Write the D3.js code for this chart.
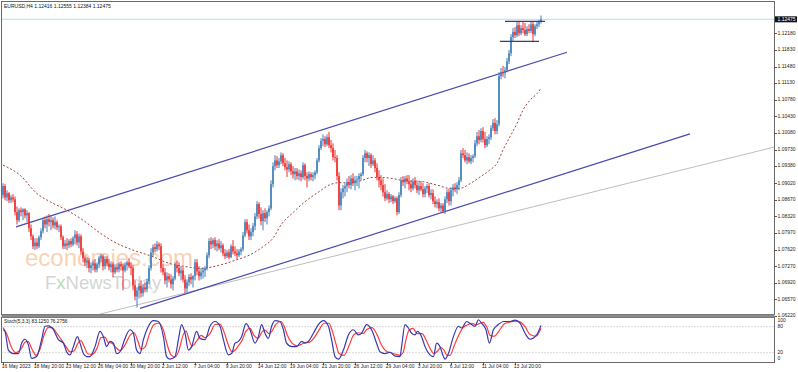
<!DOCTYPE html>
<html>
<head>
<meta charset="utf-8">
<script src="https://cdn.jsdelivr.net/npm/d3@7"></script>
<style>
  html, body { margin: 0; padding: 0; background: #fff; }
  svg { display: block; font-family: "Liberation Sans", Arial, sans-serif; }
</style>
</head>
<body>
<svg id="chart" width="798" height="372"></svg>
<script>
// EURUSD H4, one entry per bar (bar 0 = 16 May 2023 04:00)
const open = [
  1.0877,1.0896,1.0872,1.0881,1.0866,1.0872,1.0868,1.0841,1.0824,1.0845,
  1.0841,1.0847,1.0834,1.0839,1.0807,1.0790,1.0769,1.0777,1.0769,1.0788,
  1.0801,1.0824,1.0815,1.0826,1.0820,1.0824,1.0813,1.0820,1.0809,1.0811,
  1.0788,1.0769,1.0775,1.0771,1.0780,1.0773,1.0786,1.0794,1.0777,1.0790,
  1.0758,1.0744,1.0735,1.0739,1.0723,1.0729,1.0733,1.0720,1.0731,1.0744,
  1.0748,1.0727,1.0742,1.0733,1.0725,1.0731,1.0714,1.0725,1.0720,1.0731,
  1.0727,1.0718,1.0729,1.0735,1.0727,1.0723,1.0687,1.0663,1.0676,1.0685,
  1.0670,1.0682,1.0678,1.0695,1.0723,1.0756,1.0767,1.0763,1.0773,1.0769,
  1.0723,1.0714,1.0697,1.0706,1.0699,1.0689,1.0701,1.0729,1.0723,1.0712,
  1.0718,1.0699,1.0680,1.0693,1.0704,1.0699,1.0706,1.0735,1.0716,1.0706,
  1.0714,1.0718,1.0723,1.0750,1.0780,1.0773,1.0782,1.0769,1.0775,1.0765,
  1.0771,1.0754,1.0748,1.0756,1.0746,1.0769,1.0758,1.0754,1.0750,1.0758,
  1.0763,1.0792,1.0820,1.0803,1.0790,1.0799,1.0811,1.0832,1.0858,1.0837,
  1.0822,1.0839,1.0828,1.0841,1.0849,1.0900,1.0938,1.0950,1.0940,1.0948,
  1.0961,1.0944,1.0936,1.0931,1.0942,1.0927,1.0921,1.0927,1.0917,1.0923,
  1.0915,1.0940,1.0917,1.0912,1.0921,1.0915,1.0919,1.0925,1.0950,1.0976,
  1.0991,1.0995,1.0984,1.0999,1.0982,1.0976,1.0957,1.0955,1.0917,1.0855,
  1.0883,1.0891,1.0896,1.0904,1.0898,1.0912,1.0902,1.0908,1.0910,1.0917,
  1.0921,1.0955,1.0965,1.0955,1.0961,1.0942,1.0950,1.0934,1.0915,1.0908,
  1.0898,1.0883,1.0870,1.0879,1.0868,1.0874,1.0864,1.0870,1.0841,1.0877,
  1.0908,1.0904,1.0912,1.0906,1.0900,1.0891,1.0906,1.0898,1.0887,1.0896,
  1.0889,1.0879,1.0891,1.0896,1.0877,1.0881,1.0864,1.0858,1.0862,1.0849,
  1.0855,1.0843,1.0868,1.0883,1.0864,1.0887,1.0893,1.0889,1.0898,1.0908,
  1.0965,1.0961,1.0950,1.0957,1.0948,1.0955,1.0959,1.0986,1.1001,1.0993,
  1.1012,1.0995,1.0982,1.0995,1.0999,1.1018,1.1029,1.1012,1.1026,1.1128,
  1.1136,1.1134,1.1140,1.1159,1.1176,1.1210,1.1221,1.1214,1.1235,1.1218,
  1.1229,1.1225,1.1216,1.1227,1.1223,1.1237,1.1216,1.1233,1.1237,1.12416
];
const high = [
  1.0902,1.0900,1.0887,1.0883,1.0877,1.0879,1.0874,1.0853,1.0849,1.0851,
  1.0849,1.0849,1.0845,1.0841,1.0815,1.0794,1.0786,1.0786,1.0792,1.0807,
  1.0830,1.0832,1.0834,1.0837,1.0834,1.0830,1.0832,1.0824,1.0815,1.0815,
  1.0792,1.0782,1.0786,1.0784,1.0786,1.0790,1.0803,1.0801,1.0796,1.0794,
  1.0765,1.0750,1.0746,1.0744,1.0735,1.0739,1.0742,1.0735,1.0748,1.0754,
  1.0752,1.0748,1.0748,1.0742,1.0737,1.0735,1.0731,1.0733,1.0735,1.0737,
  1.0733,1.0735,1.0739,1.0744,1.0735,1.0729,1.0697,1.0682,1.0691,1.0697,
  1.0689,1.0693,1.0701,1.0729,1.0765,1.0773,1.0775,1.0780,1.0777,1.0775,
  1.0731,1.0723,1.0714,1.0712,1.0710,1.0706,1.0735,1.0739,1.0735,1.0727,
  1.0725,1.0708,1.0699,1.0710,1.0712,1.0708,1.0742,1.0742,1.0727,1.0723,
  1.0725,1.0727,1.0756,1.0786,1.0788,1.0786,1.0788,1.0782,1.0784,1.0780,
  1.0775,1.0763,1.0761,1.0763,1.0773,1.0782,1.0769,1.0763,1.0763,1.0767,
  1.0799,1.0826,1.0826,1.0815,1.0807,1.0818,1.0839,1.0864,1.0862,1.0851,
  1.0845,1.0849,1.0845,1.0855,1.0908,1.0946,1.0961,1.0959,1.0955,1.0967,
  1.0965,1.0955,1.0950,1.0948,1.0946,1.0938,1.0934,1.0934,1.0931,1.0929,
  1.0946,1.0944,1.0925,1.0927,1.0925,1.0925,1.0929,1.0955,1.0982,1.0997,
  1.1005,1.1001,1.1005,1.1010,1.0993,1.0986,1.0972,1.0961,1.0925,1.0891,
  1.0898,1.0902,1.0912,1.0917,1.0919,1.0923,1.0917,1.0917,1.0923,1.0925,
  1.0961,1.0972,1.0969,1.0967,1.0965,1.0961,1.0955,1.0944,1.0929,1.0919,
  1.0912,1.0900,1.0887,1.0883,1.0879,1.0877,1.0874,1.0874,1.0883,1.0915,
  1.0917,1.0917,1.0919,1.0919,1.0908,1.0912,1.0915,1.0908,1.0904,1.0906,
  1.0902,1.0896,1.0900,1.0902,1.0889,1.0889,1.0874,1.0868,1.0870,1.0860,
  1.0860,1.0874,1.0889,1.0891,1.0893,1.0900,1.0902,1.0904,1.0915,1.0972,
  1.0976,1.0972,1.0967,1.0965,1.0961,1.0963,1.0993,1.1010,1.1014,1.1018,
  1.1020,1.1010,1.1001,1.1005,1.1024,1.1037,1.1039,1.1035,1.1136,1.1145,
  1.1149,1.1147,1.1166,1.1183,1.1216,1.1229,1.1231,1.1242,1.1242,1.1235,
  1.1242,1.1240,1.1233,1.1237,1.1242,1.1242,1.1237,1.1244,1.1246,1.12555
];
const low = [
  1.0870,1.0866,1.0864,1.0860,1.0860,1.0862,1.0834,1.0815,1.0820,1.0832,
  1.0824,1.0828,1.0820,1.0799,1.0782,1.0763,1.0761,1.0763,1.0765,1.0782,
  1.0796,1.0807,1.0799,1.0811,1.0803,1.0807,1.0805,1.0803,1.0799,1.0782,
  1.0763,1.0763,1.0761,1.0765,1.0767,1.0769,1.0773,1.0771,1.0765,1.0752,
  1.0735,1.0727,1.0723,1.0714,1.0712,1.0718,1.0714,1.0714,1.0723,1.0735,
  1.0718,1.0720,1.0727,1.0718,1.0714,1.0704,1.0710,1.0714,1.0714,1.0718,
  1.0676,1.0714,1.0718,1.0723,1.0708,1.0676,1.0655,1.0640,1.0659,1.0661,
  1.0663,1.0672,1.0672,1.0689,1.0718,1.0746,1.0756,1.0758,1.0761,1.0714,
  1.0708,1.0689,1.0682,1.0693,1.0680,1.0676,1.0697,1.0714,1.0706,1.0697,
  1.0693,1.0670,1.0672,1.0685,1.0689,1.0682,1.0697,1.0708,1.0697,1.0699,
  1.0701,1.0704,1.0718,1.0744,1.0763,1.0765,1.0761,1.0758,1.0761,1.0756,
  1.0748,1.0742,1.0744,1.0742,1.0744,1.0752,1.0748,1.0742,1.0746,1.0750,
  1.0758,1.0788,1.0796,1.0782,1.0782,1.0790,1.0803,1.0826,1.0828,1.0813,
  1.0803,1.0820,1.0815,1.0832,1.0845,1.0893,1.0929,1.0934,1.0934,1.0942,
  1.0938,1.0929,1.0915,1.0925,1.0919,1.0912,1.0908,1.0910,1.0908,1.0906,
  1.0910,1.0908,1.0893,1.0906,1.0908,1.0906,1.0910,1.0921,1.0946,1.0972,
  1.0980,1.0978,1.0980,1.0976,1.0967,1.0950,1.0946,1.0908,1.0845,1.0845,
  1.0870,1.0874,1.0883,1.0891,1.0889,1.0896,1.0887,1.0896,1.0891,1.0908,
  1.0917,1.0946,1.0946,1.0938,1.0934,1.0938,1.0925,1.0908,1.0893,1.0887,
  1.0874,1.0864,1.0866,1.0860,1.0862,1.0858,1.0860,1.0834,1.0837,1.0872,
  1.0896,1.0891,1.0900,1.0887,1.0883,1.0887,1.0891,1.0881,1.0877,1.0885,
  1.0872,1.0872,1.0881,1.0872,1.0868,1.0858,1.0851,1.0849,1.0843,1.0841,
  1.0839,1.0837,1.0860,1.0855,1.0855,1.0874,1.0883,1.0879,1.0887,1.0904,
  1.0955,1.0946,1.0942,1.0944,1.0942,1.0946,1.0955,1.0980,1.0984,1.0988,
  1.0988,1.0976,1.0978,1.0984,1.0993,1.1012,1.1005,1.1005,1.1022,1.1121,
  1.1126,1.1123,1.1136,1.1153,1.1170,1.1202,1.1208,1.1210,1.1212,1.1214,
  1.1218,1.1212,1.1212,1.1218,1.1218,1.1199,1.1212,1.1227,1.1231,1.12384
];
const close = [
  1.0896,1.0872,1.0881,1.0866,1.0872,1.0868,1.0841,1.0824,1.0845,1.0841,
  1.0847,1.0834,1.0839,1.0807,1.0790,1.0769,1.0777,1.0769,1.0788,1.0801,
  1.0824,1.0815,1.0826,1.0820,1.0824,1.0813,1.0820,1.0809,1.0811,1.0788,
  1.0769,1.0775,1.0771,1.0780,1.0773,1.0786,1.0794,1.0777,1.0790,1.0758,
  1.0744,1.0735,1.0739,1.0723,1.0729,1.0733,1.0720,1.0731,1.0744,1.0748,
  1.0727,1.0742,1.0733,1.0725,1.0731,1.0714,1.0725,1.0720,1.0731,1.0727,
  1.0718,1.0729,1.0735,1.0727,1.0723,1.0687,1.0663,1.0676,1.0685,1.0670,
  1.0682,1.0678,1.0695,1.0723,1.0756,1.0767,1.0763,1.0773,1.0769,1.0723,
  1.0714,1.0697,1.0706,1.0699,1.0689,1.0701,1.0729,1.0723,1.0712,1.0718,
  1.0699,1.0680,1.0693,1.0704,1.0699,1.0706,1.0735,1.0716,1.0706,1.0714,
  1.0718,1.0723,1.0750,1.0780,1.0773,1.0782,1.0769,1.0775,1.0765,1.0771,
  1.0754,1.0748,1.0756,1.0746,1.0769,1.0758,1.0754,1.0750,1.0758,1.0763,
  1.0792,1.0820,1.0803,1.0790,1.0799,1.0811,1.0832,1.0858,1.0837,1.0822,
  1.0839,1.0828,1.0841,1.0849,1.0900,1.0938,1.0950,1.0940,1.0948,1.0961,
  1.0944,1.0936,1.0931,1.0942,1.0927,1.0921,1.0927,1.0917,1.0923,1.0915,
  1.0940,1.0917,1.0912,1.0921,1.0915,1.0919,1.0925,1.0950,1.0976,1.0991,
  1.0995,1.0984,1.0999,1.0982,1.0976,1.0957,1.0955,1.0917,1.0855,1.0883,
  1.0891,1.0896,1.0904,1.0898,1.0912,1.0902,1.0908,1.0910,1.0917,1.0921,
  1.0955,1.0965,1.0955,1.0961,1.0942,1.0950,1.0934,1.0915,1.0908,1.0898,
  1.0883,1.0870,1.0879,1.0868,1.0874,1.0864,1.0870,1.0841,1.0877,1.0908,
  1.0904,1.0912,1.0906,1.0900,1.0891,1.0906,1.0898,1.0887,1.0896,1.0889,
  1.0879,1.0891,1.0896,1.0877,1.0881,1.0864,1.0858,1.0862,1.0849,1.0855,
  1.0843,1.0868,1.0883,1.0864,1.0887,1.0893,1.0889,1.0898,1.0908,1.0965,
  1.0961,1.0950,1.0957,1.0948,1.0955,1.0959,1.0986,1.1001,1.0993,1.1012,
  1.0995,1.0982,1.0995,1.0999,1.1018,1.1029,1.1012,1.1026,1.1128,1.1136,
  1.1134,1.1140,1.1159,1.1176,1.1210,1.1221,1.1214,1.1235,1.1218,1.1229,
  1.1225,1.1216,1.1227,1.1223,1.1237,1.1216,1.1233,1.1237,1.12416,1.12475
];

// moving average (dashed), sampled at bar indices
const maBars   = [0, 8.5, 17, 23.5, 32, 40, 48.5, 57, 65, 75, 83, 91.5, 100, 105, 111.5, 116.5, 123, 130, 135, 139.5, 144.5, 151, 158, 163, 168, 174.5, 179.5, 184.5, 189.5, 194.5, 199.5, 210, 217, 223.5, 228.5, 233.5, 238.5, 243.5, 247, 250, 253.5, 257, 260, 263.5, 267, 269];
const maValues = [1.0940, 1.0919, 1.0880, 1.0863, 1.0845, 1.0824, 1.0797, 1.0775, 1.0761, 1.0747, 1.0733, 1.0726, 1.0722, 1.0726, 1.0733, 1.0740, 1.0750, 1.0768, 1.0786, 1.0817, 1.0838, 1.0863, 1.0884, 1.0898, 1.0903, 1.0903, 1.0908, 1.0914, 1.0914, 1.0912, 1.0908, 1.0905, 1.0898, 1.0891, 1.0891, 1.0901, 1.0915, 1.0930, 1.0944, 1.0972, 1.1000, 1.1028, 1.1056, 1.1077, 1.1091, 1.1102];

// Stochastic(5,3,3): main (%K) and signal (%D)
const stochKBars = [0, 1, 2.7, 5.2, 7.7, 9.3, 11, 12.7, 14.3, 16.8, 19.3, 21, 22.7, 25.2, 27.7, 30.2, 31.8, 33.5, 35.2, 37.2, 38.5, 40.2, 41.8, 43.5, 46, 48.5, 50.2, 51.8, 53.5, 55.2, 56.8, 58.5, 61, 63.5, 65.2, 66.8, 68.5, 70.2, 72.7, 75.2, 77.7, 80.2, 81.8, 83.5, 86, 87.7, 89.3, 91, 92.7, 94.3, 96.8, 98.5, 101, 103.5, 106, 108.5, 110.2, 112.7, 114.3, 116, 117.7, 119.3, 121.5, 123.5, 126, 127.7, 129.3, 131, 132.7, 134.3, 136, 138.5, 140.2, 141.8, 144.3, 146.8, 149.3, 151, 152.7, 155.2, 157.7, 160.2, 162.7, 164.3, 166, 167.7, 170.2, 172.7, 175.2, 177.7, 179.3, 181.8, 184.3, 186.8, 188.5, 191, 193.5, 196, 198.5, 199.3, 201, 202.7, 204.3, 206, 207.2, 209.3, 211, 213.5, 215.2, 216.8, 218.5, 220.2, 221, 222.7, 225.2, 227.7, 229.3, 231.8, 234.3, 236, 237.7, 239.3, 241.5, 243.2, 245.2, 247.7, 250.2, 253.5, 256, 258.5, 261, 263.5, 266.8, 269];
const stochK = [73, 69, 26, 18, 18, 42, 51, 38, 7, 11, 50, 81, 82, 73, 50, 42, 22, 15, 34, 57, 42, 18, 11, 11, 34, 69, 57, 34, 46, 42, 18, 22, 53, 73, 65, 26, 18, 50, 81, 94, 92, 57, 11, 5, 11, 50, 85, 65, 26, 34, 69, 53, 50, 81, 92, 81, 50, 15, 18, 42, 46, 57, 87, 73, 42, 57, 85, 65, 53, 81, 94, 92, 73, 42, 34, 34, 46, 42, 46, 65, 85, 94, 81, 50, 11, 5, 26, 61, 73, 61, 65, 85, 73, 42, 22, 18, 21, 12, 11, 34, 85, 77, 65, 61, 69, 57, 34, 15, 11, 42, 34, 11, 5, 18, 57, 81, 77, 92, 85, 81, 96, 88, 73, 42, 73, 85, 92, 92, 95, 88, 65, 51, 61, 83.1];
const stochDBars = [0, 2, 4, 6.5, 9, 11, 12.5, 14.5, 16.5, 18.5, 20.5, 22.5, 24.5, 27, 29.5, 31.5, 33.5, 35.5, 37.5, 39, 40.5, 42.5, 44.5, 47, 49, 51, 52.5, 54.5, 56.5, 58.5, 61, 63.5, 65.5, 67.5, 69, 71, 73, 75.5, 78, 80, 82, 84, 86, 88, 90, 91.5, 93, 94.5, 97, 99, 101, 103.5, 106, 108.5, 110.5, 112.5, 114.5, 116.5, 118, 119.5, 121.5, 123.5, 125.5, 127.5, 129.5, 131, 133, 134.5, 136.5, 139, 140.5, 142, 144.5, 147, 149.5, 151.5, 153, 155.5, 158, 160.5, 163, 164.5, 166.5, 168, 170.5, 173, 175.5, 178, 180, 182, 184.5, 187, 189, 191.5, 194, 196.5, 198.5, 200, 201.5, 203, 205, 207, 209.5, 211.5, 213.5, 215.5, 217.5, 219, 220.5, 222, 223.5, 225.5, 228, 230, 232, 234.5, 236.5, 238, 240, 242, 243.5, 245.5, 248, 250.5, 253.5, 256, 258.5, 261, 263.5, 266.5, 269];
const stochD = [78, 62, 35, 20, 28, 44, 46, 28, 14, 28, 60, 78, 78, 64, 48, 34, 22, 24, 42, 48, 35, 17, 16, 30, 55, 56, 44, 42, 32, 25, 38, 60, 66, 46, 28, 33, 60, 85, 88, 75, 40, 15, 10, 26, 60, 70, 50, 35, 48, 60, 55, 64, 85, 86, 68, 40, 22, 28, 38, 48, 70, 76, 60, 53, 68, 72, 64, 70, 86, 92, 82, 62, 42, 36, 40, 44, 44, 54, 72, 88, 88, 72, 40, 18, 14, 36, 62, 66, 64, 74, 78, 62, 40, 24, 20, 16, 14, 20, 50, 72, 76, 64, 64, 50, 30, 18, 25, 32, 26, 14, 14, 35, 62, 78, 84, 88, 84, 87, 90, 78, 60, 58, 70, 86, 91, 93, 91, 80, 62, 58, 76.3];
const stochLevels = [80, 20];
const stochTicks = [100, 80, 20, 0];

// drawn objects: [bar, price] anchors
const upperChannel = [[6.5, 1.0810], [282, 1.1178]];
const lowerChannel = [[68.5, 1.0638], [343.5, 1.1006]];
const grayTrend = [[48.5, 1.0626], [385.5, 1.0978]];
const rangeTop = [[251, 1.1243], [271, 1.1243]];
const rangeBottom = [[248.5, 1.1201], [268, 1.1201]];

const priceTicks = [1.12180, 1.11830, 1.11480, 1.11130, 1.10780, 1.10430, 1.10080, 1.09730, 1.09380, 1.09020, 1.08670, 1.08320, 1.07970, 1.07620, 1.07270, 1.06920, 1.06570, 1.06220];
const lastPrice = 1.12475;
const dateBars = [0, 16, 32, 48, 64, 80, 96, 112, 128, 144, 160, 176, 192, 208, 224, 240, 256];
const dateLabels = ['16 May 2023', '18 May 20:00', '23 May 12:00', '26 May 04:00', '30 May 20:00', '2 Jun 12:00', '7 Jun 04:00', '9 Jun 20:00', '14 Jun 12:00', '19 Jun 04:00', '21 Jun 20:00', '26 Jun 12:00', '29 Jun 04:00', '3 Jul 20:00', '6 Jul 12:00', '11 Jul 04:00', '13 Jul 20:00'];
const headerText = 'EURUSD,H4  1.12416 1.12555 1.12384 1.12475';
const stochHeader = 'Stoch(5,3,3) 83.1250 76.2756';

const svg = d3.select('#chart');
const left = 1.5, right = 774.5;
const mainTop = 1.5, mainBottom = 314.5;
const subTop = 317.5, subBottom = 362.5;

const x = d3.scaleLinear().domain([0, 385.75]).range([3, right]);
const y = d3.scaleLinear().domain([1.06220, 1.12180]).range([316, 33.3]);
const ys = d3.scaleLinear().domain([20, 80]).range([352.7, 326.7]);

const defs = svg.append('defs');
defs.append('clipPath').attr('id', 'clipMain')
  .append('rect').attr('x', left).attr('y', mainTop).attr('width', right - left).attr('height', mainBottom - mainTop);
defs.append('clipPath').attr('id', 'clipSub')
  .append('rect').attr('x', left).attr('y', subTop).attr('width', right - left).attr('height', subBottom - subTop);

// watermark
const wm = svg.append('g').attr('pointer-events', 'none');
wm.append('text')
  .attr('x', 25).attr('y', 266)
  .attr('font-size', 24).attr('fill', '#f8c29a').attr('fill-opacity', 0.75)
  .text('economies.com');
const fx = wm.append('text')
  .attr('x', 45).attr('y', 289)
  .attr('font-size', 18.5).attr('fill', '#c9c9c9').attr('fill-opacity', 0.8);
fx.append('tspan').text('F');
fx.append('tspan').attr('fill', '#a9cfa0').text('x');
fx.append('tspan').text('NewsToday');

const main = svg.append('g').attr('clip-path', 'url(#clipMain)');

// current bid line
main.append('line')
  .attr('x1', left).attr('x2', right)
  .attr('y1', y(lastPrice)).attr('y2', y(lastPrice))
  .attr('stroke', '#b5e1ee').attr('stroke-width', 1);

const line = d3.line().x(d => x(d[0])).y(d => y(d[1]));

main.append('path').datum(grayTrend).attr('d', line)
  .attr('fill', 'none').attr('stroke', '#bdbdbd').attr('stroke-width', 1);
main.selectAll('path.channel')
  .data([upperChannel, lowerChannel])
  .join('path').attr('class', 'channel').attr('d', line)
  .attr('fill', 'none').attr('stroke', '#4848b0').attr('stroke-width', 1.2);

// moving average
main.append('path')
  .datum(d3.zip(maBars, maValues))
  .attr('d', d3.line().x(d => x(d[0])).y(d => y(d[1])).curve(d3.curveMonotoneX))
  .attr('fill', 'none').attr('stroke', '#a8403a').attr('stroke-width', 1)
  .attr('stroke-dasharray', '2,2');

// candles
const bars = d3.range(close.length).map(i => ({i, o: open[i], h: high[i], l: low[i], c: close[i]}));
const upColor = '#3f7fb8', downColor = '#f02a2a';
const candle = main.append('g').selectAll('g').data(bars).join('g');
candle.append('line')
  .attr('x1', d => x(d.i)).attr('x2', d => x(d.i))
  .attr('y1', d => y(d.h)).attr('y2', d => y(d.l))
  .attr('stroke', d => d.c >= d.o ? upColor : downColor).attr('stroke-width', 1);
candle.append('rect')
  .attr('x', d => x(d.i) - 0.75).attr('width', 1.5)
  .attr('y', d => y(Math.max(d.o, d.c)))
  .attr('height', d => Math.max(0.8, Math.abs(y(d.o) - y(d.c))))
  .attr('fill', d => d.c >= d.o ? upColor : downColor);

// range box lines
main.selectAll('path.range')
  .data([rangeTop, rangeBottom])
  .join('path').attr('class', 'range').attr('d', line)
  .attr('fill', 'none').attr('stroke', '#383890').attr('stroke-width', 1.2);

// frames
svg.append('rect').attr('x', left).attr('y', mainTop)
  .attr('width', right - left).attr('height', mainBottom - mainTop)
  .attr('fill', 'none').attr('stroke', '#6a6a6a').attr('stroke-width', 1);
svg.append('rect').attr('x', left).attr('y', subTop)
  .attr('width', right - left).attr('height', subBottom - subTop)
  .attr('fill', 'none').attr('stroke', '#6a6a6a').attr('stroke-width', 1);
svg.append('rect').attr('x', left).attr('y', mainBottom)
  .attr('width', right - left).attr('height', subTop - mainBottom)
  .attr('fill', '#8a8a8a');

// price axis
const pAxis = svg.append('g').attr('font-size', 5).attr('fill', '#222');
pAxis.selectAll('line').data(priceTicks).join('line')
  .attr('x1', right).attr('x2', right + 2.5)
  .attr('y1', d => Math.round(y(d)) + 0.5).attr('y2', d => Math.round(y(d)) + 0.5)
  .attr('stroke', '#555');
pAxis.selectAll('text').data(priceTicks).join('text')
  .attr('x', right + 3).attr('y', d => y(d))
  .attr('dominant-baseline', 'middle')
  .text(d => d3.format('.5f')(d));
svg.append('rect').attr('x', right + 0.5).attr('y', y(lastPrice) - 3)
  .attr('width', 22).attr('height', 6).attr('fill', '#111');
svg.append('text').attr('x', right + 3).attr('y', y(lastPrice))
  .attr('dominant-baseline', 'middle').attr('font-size', 5).attr('fill', '#fff')
  .text(d3.format('.5f')(lastPrice));

// header
svg.append('text').attr('x', 4).attr('y', 7.5)
  .attr('font-size', 5).attr('fill', '#111').text(headerText);

// stochastic
const sub = svg.append('g').attr('clip-path', 'url(#clipSub)');
sub.selectAll('line.level').data(stochLevels).join('line').attr('class', 'level')
  .attr('x1', left).attr('x2', right)
  .attr('y1', d => ys(d)).attr('y2', d => ys(d))
  .attr('stroke', '#b0b0b0').attr('stroke-dasharray', '1,2');
const sLine = d3.line().x(d => x(d[0])).y(d => ys(d[1])).curve(d3.curveMonotoneX);
sub.append('path').datum(d3.zip(stochDBars, stochD)).attr('d', sLine)
  .attr('fill', 'none').attr('stroke', '#ff3c3c').attr('stroke-width', 1.2);
sub.append('path').datum(d3.zip(stochKBars, stochK)).attr('d', sLine)
  .attr('fill', 'none').attr('stroke', '#3838b0').attr('stroke-width', 1.2);
svg.append('text').attr('x', 4).attr('y', 323)
  .attr('font-size', 4.8).attr('fill', '#111').text(stochHeader);

const sAxis = svg.append('g').attr('font-size', 5).attr('fill', '#222');
sAxis.selectAll('text').data(stochTicks).join('text')
  .attr('x', right + 3)
  .attr('y', d => d === 100 ? ys(d) + 3 : d === 0 ? ys(d) - 3 : ys(d))
  .attr('dominant-baseline', 'middle')
  .text(d => d);

// time axis
const tAxis = svg.append('g').attr('font-size', 5).attr('fill', '#222');
tAxis.selectAll('line').data(dateBars).join('line')
  .attr('x1', d => Math.round(x(d)) + 0.5).attr('x2', d => Math.round(x(d)) + 0.5)
  .attr('y1', subBottom).attr('y2', subBottom + 2.5)
  .attr('stroke', '#555');
tAxis.selectAll('text').data(dateBars).join('text')
  .attr('x', d => x(d) - 1.3).attr('y', 368)
  .text((d, i) => dateLabels[i]);
</script>
</body>
</html>
